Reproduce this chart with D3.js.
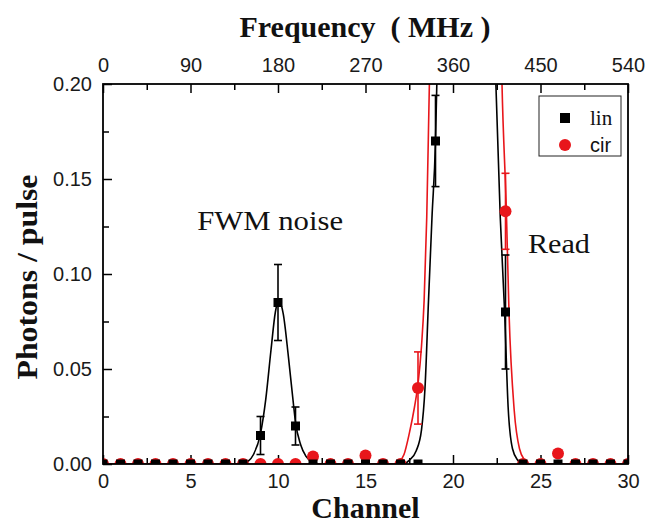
<!DOCTYPE html>
<html><head><meta charset="utf-8">
<script src="https://cdn.jsdelivr.net/npm/d3@7"></script>
<style>
html,body{margin:0;padding:0;background:#fff;}
svg{display:block;}
</style></head>
<body>
<svg id="chart" width="648" height="523"></svg>
<script>
// ---- data ----
const channels = d3.range(0, 31);
// lin (black squares); null = off scale
const linValues = [0,0,0,0,0,0,0,0,0,0.015,0.085,0.02,0,0,0,0,0,0,0,0.17,null,null,null,0.08,0,0,0,0,0,0,0];
const linErrors = [0,0,0,0,0,0,0,0,0,0.01,0.02,0.01,0,0,0,0,0,0,0,0.024,0,0,0,0.03,0,0,0,0,0,0,0];
// cir (red circles)
const cirValues = [0,0,0,0,0,0,0,0,0,0,0,0,0.004,0,0,0.0045,0,0,0.04,null,null,null,null,0.133,0,0,0.0055,0,0,0,0];
const cirErrors = [0,0,0,0,0,0,0,0,0,0,0,0,0,0,0,0,0,0,0.019,0,0,0,0,0.02,0,0,0,0,0,0,0];
// fitted curves [channel, value]
const linFit = [[0,0],[7.6,0],[8.0,0.0004],[8.3,0.0015],[8.6,0.005],[9.0,0.016],[9.3,0.034],[9.6,0.06],[9.85,0.08],[10.05,0.086],[10.3,0.079],[10.6,0.056],[10.9,0.03],[11.0,0.022],[11.3,0.01],[11.6,0.004],[12.0,0.001],[12.4,0],
  [17.2,0],[17.5,0.002],[17.9,0.007],[18.2,0.018],[18.4,0.04],[18.6,0.086],[18.8,0.13],[19.0,0.17],[19.1,0.21],[19.4,0.32],[20.8,0.5],[22.1,0.32],[22.3,0.25],[22.45,0.2],[22.7,0.13],[22.95,0.08],[23.15,0.03],[23.4,0.008],[23.7,0.002],[24.0,0],[30,0]];
const cirFit = [[0,0],[16.7,0],[16.9,0.001],[17.2,0.005],[17.5,0.016],[17.8,0.03],[18.0,0.042],[18.2,0.062],[18.35,0.086],[18.5,0.13],[18.65,0.2],[18.9,0.3],[20.7,0.6],[22.6,0.3],[22.8,0.2],[23.05,0.133],[23.2,0.08],[23.5,0.028],[23.8,0.008],[24.1,0.002],[24.4,0],[30,0]];
const channelTicks = [0,5,10,15,20,25,30];
const channelMinor = [2.5,7.5,12.5,17.5,22.5,27.5];
const freqTicks = [0,90,180,270,360,450,540];
const freqMinor = [45,135,225,315,405,495];
const yTicks = [0,0.05,0.1,0.15,0.2];
const yMinor = [0.025,0.075,0.125,0.175];
const seriesNames = ["lin","cir"];
const annotations = [{text:"FWM noise", x:9.55, y:0.123, w:146}, {text:"Read", x:26.05, y:0.111, w:62}];

// ---- drawing ----
const RED = "#e8161b";
const svg = d3.select("#chart");
const L = 103, R = 628, T = 84, B = 464;
const x = d3.scaleLinear().domain([0,30]).range([L,R]);
const xf = d3.scaleLinear().domain([0,540]).range([L,R]);
const y = d3.scaleLinear().domain([0,0.2]).range([B,T]);

svg.append("defs").append("clipPath").attr("id","clip")
  .append("rect").attr("x",L).attr("y",T).attr("width",R-L).attr("height",B-T);

const tickFont = "'Liberation Sans', Arial, sans-serif";
function styleAxis(g){
  g.select(".domain").remove();
  g.selectAll("line").attr("stroke","#000").attr("stroke-width",1.5);
  g.selectAll("text").attr("font-family",tickFont).attr("font-size",20).attr("fill","#1a1a1a");
}
// left
svg.append("g").attr("transform",`translate(${L},0)`)
  .call(d3.axisLeft(y).tickValues(yTicks).tickSize(-9).tickPadding(11).tickFormat(d3.format(".2f"))).call(styleAxis);
svg.append("g").attr("transform",`translate(${L},0)`)
  .call(d3.axisLeft(y).tickValues(yMinor).tickSize(-6).tickFormat("")).call(styleAxis);
// bottom
svg.append("g").attr("transform",`translate(0,${B})`)
  .call(d3.axisBottom(x).tickValues(channelTicks).tickSize(-9).tickPadding(10)).call(styleAxis);
svg.append("g").attr("transform",`translate(0,${B})`)
  .call(d3.axisBottom(x).tickValues(channelMinor).tickSize(-6).tickFormat("")).call(styleAxis);
// top
svg.append("g").attr("transform",`translate(0,${T})`)
  .call(d3.axisTop(xf).tickValues(freqTicks).tickSize(-9).tickPadding(12)).call(styleAxis);
svg.append("g").attr("transform",`translate(0,${T})`)
  .call(d3.axisTop(xf).tickValues(freqMinor).tickSize(-6).tickFormat("")).call(styleAxis);

const plot = svg.append("g").attr("clip-path","url(#clip)");
const line = d3.line().x(d=>x(d[0])).y(d=>y(d[1])).curve(d3.curveMonotoneX);
plot.append("path").datum(linFit).attr("d",line).attr("fill","none").attr("stroke","#000").attr("stroke-width",1.6);
plot.append("path").datum(cirFit).attr("d",line).attr("fill","none").attr("stroke",RED).attr("stroke-width",1.6);

function errBars(values, errors, color){
  const pts = channels.map((c,i)=>({c, v:values[i], e:errors[i]})).filter(d=>d.v!==null && d.e>0);
  const g = plot.append("g").attr("stroke",color).attr("stroke-width",1.6);
  pts.forEach(d=>{
    g.append("line").attr("x1",x(d.c)).attr("x2",x(d.c)).attr("y1",y(d.v-d.e)).attr("y2",y(d.v+d.e));
    [d.v-d.e, d.v+d.e].forEach(v=>g.append("line").attr("x1",x(d.c)-4).attr("x2",x(d.c)+4).attr("y1",y(v)).attr("y2",y(v)));
  });
}
errBars(linValues, linErrors, "#000");
errBars(cirValues, cirErrors, RED);

const cirPts = channels.map((c,i)=>({c,v:cirValues[i]})).filter(d=>d.v!==null);
plot.append("g").selectAll("circle").data(cirPts).join("circle")
  .attr("cx",d=>x(d.c)).attr("cy",d=>y(d.v)).attr("r",6).attr("fill",RED);
const linPts = channels.map((c,i)=>({c,v:linValues[i]})).filter(d=>d.v!==null);
plot.append("g").selectAll("rect").data(linPts).join("rect")
  .attr("x",d=>x(d.c)-4.5).attr("y",d=>y(d.v)-4.5).attr("width",9).attr("height",9).attr("fill","#000");

// frame
svg.append("rect").attr("x",L).attr("y",T).attr("width",R-L).attr("height",B-T)
  .attr("fill","none").attr("stroke","#000").attr("stroke-width",1.8);

// legend
const lg = svg.append("g");
lg.append("rect").attr("x",539).attr("y",96).attr("width",82).attr("height",60).attr("fill","#fff").attr("stroke","#222").attr("stroke-width",1);
lg.append("rect").attr("x",565-5).attr("y",118-5).attr("width",10).attr("height",10).attr("fill","#000");
lg.append("circle").attr("cx",565).attr("cy",145).attr("r",6).attr("fill",RED);
lg.append("text").attr("x",590).attr("y",125).text(seriesNames[0]).attr("font-family","'Liberation Serif', 'Times New Roman', serif").attr("font-size",21).attr("fill","#111");
lg.append("text").attr("x",590).attr("y",152).text(seriesNames[1]).attr("font-family",tickFont).attr("font-size",20).attr("fill","#111");

// annotations
svg.selectAll("text.ann").data(annotations).join("text").attr("class","ann")
  .attr("x",d=>x(d.x)).attr("y",d=>y(d.y)).attr("text-anchor","middle")
  .attr("textLength",d=>d.w).attr("lengthAdjust","spacingAndGlyphs")
  .attr("font-family","'Liberation Serif', 'Times New Roman', serif").attr("font-size",28).attr("fill","#111")
  .text(d=>d.text);

// axis titles
const titleFont = "'Liberation Serif', 'Times New Roman', serif";
svg.append("text").attr("x",365).attr("y",37).attr("text-anchor","middle").style("white-space","pre")
  .attr("font-family",titleFont).attr("font-weight","bold").attr("font-size",30).attr("fill","#111")
  .text("Frequency  ( MHz )");
svg.append("text").attr("x",x(15)).attr("y",518).attr("text-anchor","middle")
  .attr("font-family",titleFont).attr("font-weight","bold").attr("font-size",30).attr("fill","#111")
  .text("Channel");
svg.append("text").attr("transform",`translate(37,277) rotate(-90)`).attr("text-anchor","middle")
  .attr("textLength",205).attr("lengthAdjust","spacingAndGlyphs")
  .attr("font-family",titleFont).attr("font-weight","bold").attr("font-size",29).attr("fill","#111")
  .text("Photons / pulse");
</script>
</body></html>
